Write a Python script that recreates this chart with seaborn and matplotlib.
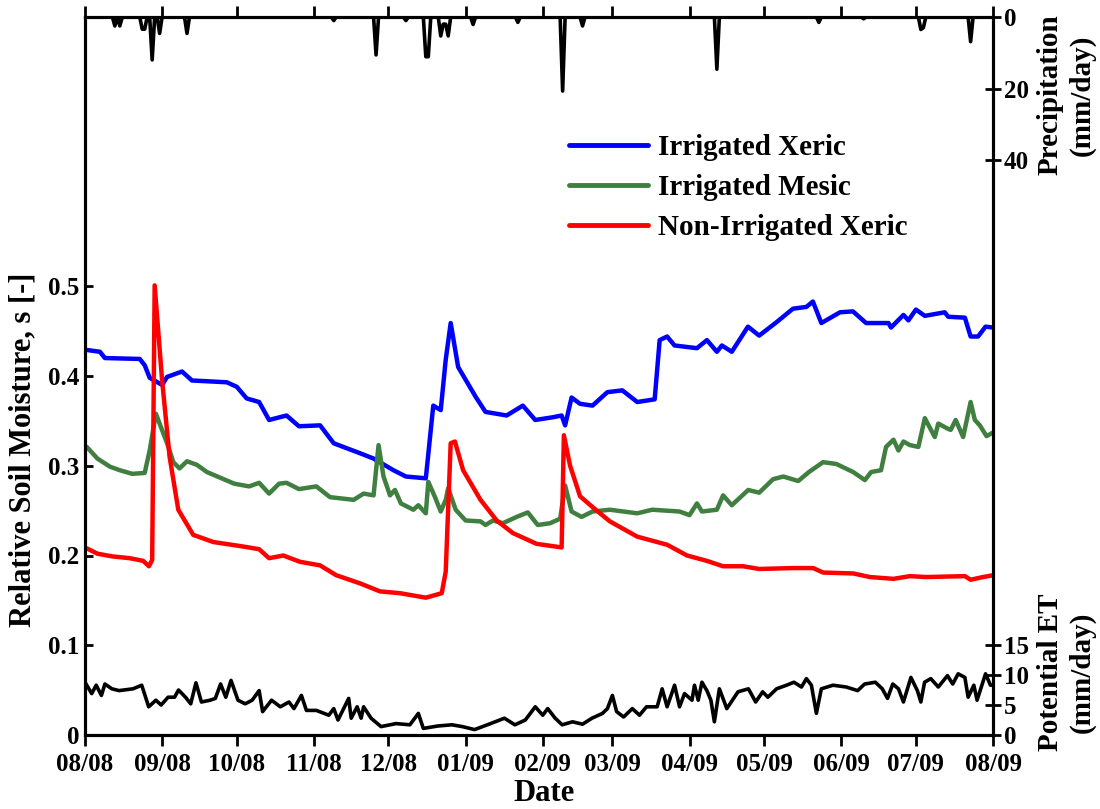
import numpy as np
import pandas as pd
import matplotlib
matplotlib.use("Agg")
import matplotlib.pyplot as plt
import matplotlib.dates as mdates
from matplotlib.lines import Line2D
from matplotlib.ticker import FuncFormatter
import seaborn as sns

START = pd.Timestamp("2008-08-01")
END = pd.Timestamp("2009-08-01")

# ---------------- data (day offsets from 2008-08-01) ----------------
xeric_days = [0.7, 6, 8, 22, 24, 26, 31, 33, 39, 43, 57, 61, 65, 70, 74, 81, 86, 94.5, 100,
              110.5, 116, 124, 129, 137, 140, 143, 145, 147, 150, 157, 161, 169.5, 176, 181,
              188, 191.6, 193, 195.6, 199, 204, 210, 216, 222, 229, 231, 234, 237, 246, 250,
              254, 256, 260, 266.5, 271, 278, 284.6, 290, 292.6, 296, 303.5, 308.7, 314, 323,
              324, 329, 331, 334, 337.6, 345.6, 347, 353.7, 356, 359, 362, 365]
xeric_s = [0.429, 0.427, 0.420, 0.419, 0.412, 0.398, 0.390, 0.399, 0.405, 0.395, 0.393, 0.388,
           0.375, 0.371, 0.351, 0.356, 0.344, 0.345, 0.325, 0.314, 0.308, 0.295, 0.288, 0.286,
           0.367, 0.362, 0.418, 0.459, 0.410, 0.377, 0.360, 0.356, 0.367, 0.351, 0.354, 0.356,
           0.345, 0.376, 0.369, 0.367, 0.382, 0.384, 0.371, 0.374, 0.440, 0.444, 0.434, 0.431,
           0.440, 0.427, 0.434, 0.427, 0.455, 0.445, 0.460, 0.475, 0.477, 0.483, 0.459, 0.471,
           0.472, 0.459, 0.459, 0.454, 0.468, 0.462, 0.474, 0.467, 0.471, 0.466, 0.465, 0.444,
           0.444, 0.455, 0.454]

mesic_days = [0.7, 5, 10, 14, 19, 24, 26, 28.5, 33, 35.5, 38, 41, 45, 49, 60, 66, 70, 74, 78,
              81, 86, 93, 98.5, 108, 112, 116, 118, 120, 122.6, 124.6, 127, 132, 134, 137, 138,
              140.7, 143, 145, 146, 149, 153, 159, 161, 164, 168, 173.5, 178, 182, 187, 191,
              193, 195.6, 199.6, 204, 211, 222, 228, 239, 243, 246, 248, 254, 256.5, 260,
              266.6, 271, 276.6, 280.7, 286.7, 291, 296.7, 302, 308.8, 313.5, 316, 320, 322,
              325, 327, 329, 331.6, 335, 337.6, 341.6, 343, 347, 348, 350, 353, 356, 357.7,
              359.7, 362.4, 365]
mesic_s = [0.321, 0.308, 0.299, 0.295, 0.291, 0.292, 0.317, 0.358, 0.325, 0.304, 0.297, 0.305,
           0.301, 0.293, 0.280, 0.277, 0.281, 0.269, 0.280, 0.281, 0.274, 0.277, 0.265, 0.262,
           0.269, 0.267, 0.323, 0.288, 0.267, 0.273, 0.258, 0.251, 0.256, 0.247, 0.282, 0.265,
           0.249, 0.262, 0.275, 0.251, 0.239, 0.238, 0.234, 0.239, 0.236, 0.243, 0.248, 0.234,
           0.236, 0.241, 0.278, 0.249, 0.243, 0.249, 0.251, 0.247, 0.251, 0.249, 0.245, 0.258,
           0.249, 0.251, 0.267, 0.256, 0.273, 0.270, 0.285, 0.288, 0.283, 0.293, 0.304, 0.302,
           0.293, 0.284, 0.293, 0.295, 0.321, 0.329, 0.317, 0.327, 0.323, 0.321, 0.353, 0.332,
           0.347, 0.341, 0.340, 0.351, 0.332, 0.371, 0.351, 0.345, 0.333, 0.337]

nonirr_days = [0.7, 5, 11, 18, 23.4, 25.7, 27, 28, 31, 34, 37.5, 43.5, 51.6, 63.6, 70, 74, 79.7,
               86.4, 94.5, 101, 110.5, 118.6, 126.6, 137, 143.4, 145, 147, 148.7, 152, 159,
               165.5, 172, 181.5, 191.6, 192.5, 195, 199, 204, 211, 222, 234, 242, 250, 256.5,
               264.6, 271, 284.7, 292.7, 296.7, 308.8, 315.5, 325, 331.6, 338, 353.7, 356,
               361, 365]
nonirr_s = [0.208, 0.202, 0.199, 0.197, 0.194, 0.188, 0.195, 0.501, 0.395, 0.310, 0.251, 0.223,
            0.215, 0.210, 0.207, 0.197, 0.200, 0.193, 0.189, 0.178, 0.169, 0.160, 0.158, 0.153,
            0.158, 0.182, 0.325, 0.327, 0.295, 0.262, 0.239, 0.225, 0.213, 0.209, 0.334, 0.300,
            0.266, 0.254, 0.238, 0.221, 0.212, 0.200, 0.194, 0.188, 0.188, 0.185, 0.186, 0.186,
            0.181, 0.180, 0.176, 0.174, 0.177, 0.176, 0.177, 0.173, 0.176, 0.178]

# precipitation events (day offset, mm/day); all other days are 0
rain_days = [12, 14, 23, 24, 27, 30, 41, 100, 117, 129, 137, 138, 143, 144, 145, 146, 156,
             174, 192, 200, 254, 295, 313, 336, 337, 356]
rain_mm = [2.5, 2.5, 3.4, 3.4, 12.0, 4.6, 4.6, 1.0, 10.6, 1.0, 11.1, 11.1, 5.3, 2.0, 2.0,
           5.3, 2.1, 1.5, 20.7, 2.5, 14.6, 1.5, 0.5, 3.5, 3.0, 6.9]

# potential ET (day offset, mm/day)
et_days = [0, 2.7, 4.5, 6.6, 8, 10.8, 13.7, 19.3, 22.8, 25.6, 28.5, 30.6, 33.4, 36, 37.6,
           40.4, 42.5, 44.6, 46.8, 50.3, 52.4, 54.5, 56.6, 58.7, 61.5, 64.4, 67.2, 70, 71.4,
           75, 78.5, 82, 84, 87, 89, 93, 98, 100, 101.7, 106, 107, 109.4, 111, 112, 115, 119,
           125, 130.6, 134, 136, 141.8, 147.5, 151.7, 156.6, 163, 168.6, 172.8, 177, 181, 184,
           186, 189, 191.8, 196, 200, 203.8, 208, 210, 212, 213.7, 216.5, 220, 222.9, 225.7,
           230, 232, 234, 237, 239, 241, 244, 245, 246.5, 248, 250, 251.6, 253, 255, 258,
           262.5, 266.7, 269.6, 272.4, 274.5, 278, 282, 285, 288, 290, 292, 294, 296, 300.7,
           306, 310.6, 313.4, 317.7, 320.5, 322.6, 324.7, 327, 329, 332, 334.6, 336, 337.5,
           340, 343, 346.7, 348.8, 351, 353.7, 355, 357.3, 358.6, 362, 364, 365]
et_mm = [8.8, 6.9, 8.3, 6.6, 8.5, 7.7, 7.4, 7.7, 8.3, 4.7, 5.8, 5.0, 6.3, 6.3, 7.5, 6.3, 5.2,
         8.7, 5.5, 5.8, 6.1, 8.5, 6.3, 9.1, 5.8, 5.2, 5.8, 7.4, 3.9, 5.8, 4.7, 5.5, 4.4, 6.6,
         4.1, 4.1, 3.3, 4.4, 2.5, 6.1, 2.8, 4.7, 2.8, 4.7, 2.8, 1.4, 1.9, 1.7, 3.6, 1.1, 1.5,
         1.7, 1.4, 0.9, 1.9, 2.8, 1.7, 2.5, 4.7, 3.3, 4.4, 2.8, 1.7, 2.2, 1.8, 2.8, 3.6, 4.4,
         6.6, 3.9, 3.0, 4.4, 3.3, 4.7, 4.7, 7.7, 4.7, 8.3, 4.7, 6.9, 5.8, 8.3, 5.8, 8.8, 7.4,
         5.8, 2.2, 7.7, 4.4, 7.2, 7.7, 5.5, 7.2, 6.3, 7.7, 8.3, 8.8, 8.0, 9.4, 8.3, 3.6, 7.7,
         8.3, 8.0, 7.4, 8.5, 8.8, 7.7, 6.1, 8.5, 7.7, 5.5, 9.6, 7.4, 5.5, 8.8, 9.4, 8.0, 9.9,
         8.5, 10.2, 9.6, 6.3, 8.3, 5.8, 10.2, 8.3, 8.3]

series_names = ["Irrigated Xeric", "Irrigated Mesic", "Non-Irrigated Xeric"]
series_colors = ["#0000ff", "#3f7f3f", "#ff0000"]


def to_dates(days):
    return START + pd.to_timedelta(np.asarray(days, dtype=float), unit="D")


frames = []
for name, d, v in [(series_names[0], xeric_days, xeric_s),
                   (series_names[1], mesic_days, mesic_s),
                   (series_names[2], nonirr_days, nonirr_s)]:
    frames.append(pd.DataFrame({"date": to_dates(d), "s": v, "series": name}))
soil = pd.concat(frames, ignore_index=True)

precip_daily = np.zeros(366)
for d, v in zip(rain_days, rain_mm):
    precip_daily[d] = v
precip = pd.DataFrame({"date": to_dates(np.arange(366)), "p": precip_daily})
et = pd.DataFrame({"date": to_dates(et_days), "et": et_mm})

# ---------------- style ----------------
sns.set_theme(style="ticks")
plt.rcParams["font.family"] = ["Liberation Serif", "DejaVu Serif"]
plt.rcParams["font.weight"] = "bold"
plt.rcParams["axes.labelweight"] = "bold"
plt.rcParams["text.color"] = "black"
plt.rcParams["axes.labelcolor"] = "black"
plt.rcParams["xtick.color"] = "black"
plt.rcParams["ytick.color"] = "black"
plt.rcParams["xtick.labelcolor"] = "black"
plt.rcParams["ytick.labelcolor"] = "black"

fig = plt.figure(figsize=(11, 8.09), dpi=100)
ax = fig.add_axes([85 / 1100, 1 - 735 / 809, 908 / 1100, 718 / 809])

sns.lineplot(data=soil, x="date", y="s", hue="series", hue_order=series_names,
             palette=series_colors, estimator=None, sort=False, linewidth=3.2,
             legend=False, ax=ax)

ax.set_xlim(START, END)
ax.set_ylim(0, 0.8)
ax.set_yticks([0, 0.1, 0.2, 0.3, 0.4, 0.5])
ax.yaxis.set_major_formatter(FuncFormatter(lambda v, _: "0" if v == 0 else f"{v:.1f}"))
ax.xaxis.set_major_locator(mdates.MonthLocator())
ax.xaxis.set_major_formatter(mdates.DateFormatter("%m/%y"))
ax.set_xlabel("")
ax.set_ylabel("")
ax.tick_params(axis="x", direction="out", length=8, width=2, top=True, bottom=True,
               labelsize=18, pad=5, colors="black")
ax.tick_params(axis="y", direction="in", length=6, width=2, left=True, right=False,
               labelsize=18, pad=4, colors="black")
for sp in ax.spines.values():
    sp.set_linewidth(2.2)
    sp.set_color("black")

# precipitation (inverted, top)
ax2 = ax.twinx()
sns.lineplot(data=precip, x="date", y="p", color="black", linewidth=2.6,
             estimator=None, ax=ax2)
ax2.set_ylim(200.8, 0)
ax2.set_yticks([0, 20, 40])
ax2.set_ylabel("")
ax2.tick_params(axis="y", direction="inout", length=12, width=2, labelsize=18, pad=2,
                colors="black")

# potential ET (bottom)
ax3 = ax.twinx()
sns.lineplot(data=et, x="date", y="et", color="black", linewidth=2.6,
             estimator=None, ax=ax3)
ax3.set_ylim(0, 119.7)
ax3.set_yticks([0, 5, 10, 15])
ax3.set_ylabel("")
ax3.tick_params(axis="y", direction="inout", length=12, width=2, labelsize=18, pad=2,
                colors="black")
for a in (ax2, ax3):
    for sp in a.spines.values():
        sp.set_linewidth(2.2)
        sp.set_color("black")
ax.set_xlim(START, END)

for lab in ax.get_xticklabels() + ax.get_yticklabels() + ax2.get_yticklabels() + ax3.get_yticklabels():
    lab.set_fontweight("bold")
    lab.set_color("black")

# labels
fig.text(23 / 1100, 1 - 450 / 809, "Relative Soil Moisture, s [-]", rotation=90,
         ha="center", va="center", fontsize=22, fontweight="bold", color="black")
fig.text(544 / 1100, 1 - 801 / 809, "Date", ha="center", va="baseline",
         fontsize=22, fontweight="bold", color="black")
fig.text(1066 / 1100, 1 - 95 / 809, "Precipitation\n(mm/day)", rotation=90,
         ha="center", va="center", fontsize=21, fontweight="bold",
         multialignment="center", color="black")
fig.text(1066 / 1100, 1 - 672 / 809, "Potential ET\n(mm/day)", rotation=90,
         ha="center", va="center", fontsize=21, fontweight="bold",
         multialignment="center", color="black")

handles = [Line2D([0], [0], color=c, lw=3.5) for c in series_colors]
leg = fig.legend(handles, series_names, loc="upper left",
                 bbox_to_anchor=(569 / 1100, 1 - 134 / 809), frameon=False,
                 prop={"size": 21, "weight": "bold"}, handlelength=2.7, handletextpad=0.35,
                 labelspacing=0.45, borderpad=0, borderaxespad=0)
for t in leg.get_texts():
    t.set_color("black")

fig.savefig("out.png", dpi=100)
